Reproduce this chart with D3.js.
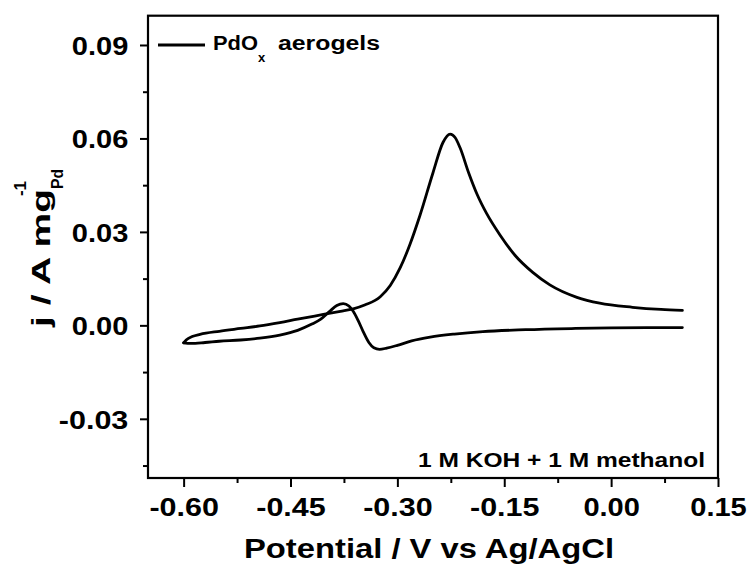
<!DOCTYPE html>
<html>
<head>
<meta charset="utf-8">
<script src="https://cdn.jsdelivr.net/npm/d3@7"></script>
<style>
  body { margin: 0; background: #fff; }
  svg text { font-family: "Liberation Sans", Arial, sans-serif; font-weight: bold; fill: #000; }
</style>
</head>
<body>
<svg id="chart" width="753" height="570"></svg>
<script>
// Tick values
const xTicks = [-0.60, -0.45, -0.30, -0.15, 0.00, 0.15];
const xMinor = [-0.525, -0.375, -0.225, -0.075, 0.075];
const yTicks = [-0.03, 0.00, 0.03, 0.06, 0.09];
const yMinor = [-0.045, -0.015, 0.015, 0.045, 0.075];

// Forward (anodic) sweep, -0.6 -> 0.1 V
const fwdV = [-0.600, -0.596, -0.588, -0.577, -0.550, -0.520, -0.493, -0.465, -0.440, -0.404, -0.380, -0.362,
  -0.345, -0.324, -0.310, -0.296, -0.282, -0.268, -0.250, -0.236, -0.226, -0.219, -0.212, -0.200,
  -0.188, -0.175, -0.156, -0.135, -0.110, -0.086, -0.048, -0.016, 0.030, 0.070, 0.100];
const fwdJ = [-0.0056, -0.0046, -0.0036, -0.0029, -0.0019, -0.0010, -0.0002, 0.0009, 0.0020, 0.0035, 0.0045, 0.0053,
  0.0066, 0.0092, 0.0128, 0.0185, 0.0262, 0.0355, 0.0490, 0.0587, 0.0614, 0.0603, 0.0570, 0.0490,
  0.0420, 0.0360, 0.0290, 0.0225, 0.0170, 0.0130, 0.0090, 0.0071, 0.0058, 0.0051, 0.0048];

// Reverse (cathodic) sweep, listed 0.1 -> -0.6 V
const revV = [0.100, 0.050, 0.000, -0.050, -0.120, -0.180, -0.220, -0.254, -0.280, -0.300, -0.315, -0.325,
  -0.333, -0.340, -0.348, -0.355, -0.362, -0.368, -0.376, -0.385, -0.395, -0.408, -0.420, -0.440,
  -0.465, -0.493, -0.520, -0.550, -0.570, -0.590, -0.600];
const revJ = [-0.0007, -0.0007, -0.0008, -0.0010, -0.0014, -0.0020, -0.0028, -0.0038, -0.0050, -0.0064, -0.0073, -0.0077,
  -0.0072, -0.0055, -0.0020, 0.0015, 0.0045, 0.0062, 0.0070, 0.0064, 0.0045, 0.0019, 0.0004, -0.0016,
  -0.0031, -0.0041, -0.0047, -0.0051, -0.0055, -0.0058, -0.0056];

const seriesName = "PdO";
const seriesSub = "x";
const seriesTail = "aerogels";
const note = "1 M KOH + 1 M methanol";
const xTitle = "Potential / V vs Ag/AgCl";

const svg = d3.select("#chart");
const plot = { left: 148, right: 718, top: 15.7, bottom: 478 };

const x = d3.scaleLinear().domain([-0.65, 0.15]).range([plot.left, plot.right]);
const y = d3.scaleLinear().domain([-0.049, 0.0994]).range([plot.bottom, plot.top]);

// plain hyphen for negatives, as in the original
const fmt = d => d3.format(".2f")(d).replace("\u2212", "-");

// stretch labels to match the wide lettering of the original
function stretch(sel, w) {
  sel.attr("textLength", w).attr("lengthAdjust", "spacingAndGlyphs");
}

// minor ticks
svg.append("g")
  .attr("transform", `translate(0,${plot.bottom})`)
  .call(d3.axisBottom(x).tickValues(xMinor).tickSize(5).tickFormat(""))
  .call(g => g.select(".domain").remove())
  .selectAll("line").attr("stroke-width", 2);
svg.append("g")
  .attr("transform", `translate(${plot.left},0)`)
  .call(d3.axisLeft(y).tickValues(yMinor).tickSize(5).tickFormat(""))
  .call(g => g.select(".domain").remove())
  .selectAll("line").attr("stroke-width", 2);

// major ticks
const gx = svg.append("g")
  .attr("transform", `translate(0,${plot.bottom})`)
  .call(d3.axisBottom(x).tickValues(xTicks).tickSize(9).tickFormat(fmt))
  .call(g => g.select(".domain").remove());
gx.selectAll("line").attr("stroke-width", 2);
gx.selectAll("text")
  .attr("y", 37.7).attr("dy", 0)
  .style("font-size", "26.5px")
  .each(function(d) { stretch(d3.select(this), d < 0 ? 69.5 : 56.5); });

const gy = svg.append("g")
  .attr("transform", `translate(${plot.left},0)`)
  .call(d3.axisLeft(y).tickValues(yTicks).tickSize(8).tickFormat(fmt))
  .call(g => g.select(".domain").remove());
gy.selectAll("line").attr("stroke-width", 2);
gy.selectAll("text")
  .attr("x", -19.7).attr("dy", "0.36em")
  .style("font-size", "26.5px")
  .each(function(d) { stretch(d3.select(this), d < 0 ? 69.5 : 56.5); });

// frame
svg.append("rect")
  .attr("x", plot.left).attr("y", plot.top)
  .attr("width", plot.right - plot.left).attr("height", plot.bottom - plot.top)
  .attr("fill", "none").attr("stroke", "#000").attr("stroke-width", 2.2);

// curves: each sweep is monotone in potential
const line = d3.line()
  .x(d => x(d[0]))
  .y(d => y(d[1]))
  .curve(d3.curveMonotoneX);

const fwd = fwdV.map((v, i) => [v, fwdJ[i]]);
const rev = revV.map((v, i) => [v, revJ[i]]).reverse();

[fwd, rev].forEach(pts => {
  svg.append("path")
    .datum(pts)
    .attr("d", line)
    .attr("fill", "none")
    .attr("stroke", "#000")
    .attr("stroke-width", 2.8)
    .attr("stroke-linejoin", "round")
    .attr("stroke-linecap", "round");
});

// legend
svg.append("line")
  .attr("x1", 158).attr("x2", 205).attr("y1", 45).attr("y2", 45)
  .attr("stroke", "#000").attr("stroke-width", 2.8);
svg.append("text").attr("x", 213).attr("y", 50).style("font-size", "20px")
  .text(seriesName).call(stretch, 45);
svg.append("text").attr("x", 258).attr("y", 61.5).style("font-size", "13px")
  .text(seriesSub);
svg.append("text").attr("x", 278).attr("y", 50).style("font-size", "20px")
  .text(seriesTail).call(stretch, 102);

// condition note
svg.append("text").attr("x", 705).attr("y", 466.7).attr("text-anchor", "end")
  .style("font-size", "21px").text(note).call(stretch, 287);

// x title
svg.append("text").attr("x", 244).attr("y", 558).style("font-size", "27px")
  .text(xTitle).call(stretch, 370);

// y title: j / A mg_Pd^-1
const yt = svg.append("g").attr("transform", "translate(49.5,327) rotate(-90)");
yt.append("text").attr("x", 0).attr("y", 0).style("font-size", "26px")
  .text("j / A mg").call(stretch, 138);
yt.append("text").attr("x", 138).attr("y", 13.5).style("font-size", "17px")
  .text("Pd").call(stretch, 20);
yt.append("text").attr("x", 131).attr("y", -24).style("font-size", "17px")
  .text("-1").call(stretch, 15);
</script>
</body>
</html>
